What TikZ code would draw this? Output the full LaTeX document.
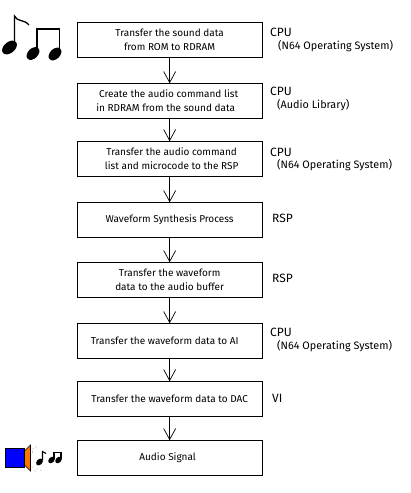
\documentclass[tikz,border=0pt]{standalone}
\usepackage{fontspec}
\setmainfont{Fira Sans}
\usetikzlibrary{calc}
\tikzset{
  x=1pt,y=-1pt,
  flowbox/.style={draw=black,line width=0.8pt,minimum width=185.5pt,minimum height=35.8pt,inner sep=0pt,align=center,font=\fontsize{10}{14.2}\selectfont,anchor=north west},
  flowarrow/.style={draw=black,line width=0.7pt},
  unitlabel/.style={font=\fontsize{12}{14}\selectfont,anchor=west,inner sep=0pt},
  sublabel/.style={font=\fontsize{10.8}{12}\selectfont,anchor=west,inner sep=0pt},
}
\begin{document}
\begin{tikzpicture}
\useasboundingbox (0,0) rectangle (410,493);
\node[flowbox] (b1) at (76.5,21.5) {Transfer the sound data\\from ROM to RDRAM};
\node[flowbox] (b2) at (76.5,82.5) {\hspace*{-2pt}Create the audio command list\\\hspace*{-8pt}in RDRAM from the sound data};
\node[flowbox] (b3) at (76.5,140.5) {\hspace*{4pt}Transfer the audio command\\\hspace*{4pt}list and microcode to the RSP};
\node[flowbox] (b4) at (76.5,201.5) {Waveform Synthesis Process};
\node[flowbox] (b5) at (76.5,261.5) {Transfer the waveform\\data to the audio buffer};
\node[flowbox] (b6) at (76.5,322.5) {\hspace*{-10pt}Transfer the waveform data to AI};
\node[flowbox] (b7) at (76.5,380.5) {Transfer the waveform data to DAC};
\node[flowbox] (b8) at (76.5,439.5) {\hspace*{-4pt}Audio Signal};
\foreach \a/\b in {b1/b2,b2/b3,b3/b4,b4/b5,b5/b6,b6/b7,b7/b8}{
  \draw[flowarrow] (\a.south) -- (\b.north);
  \draw[flowarrow] ($(\b.north)+(-6,-11)$) -- (\b.north) -- ($(\b.north)+(6,-11)$);
}
\node[unitlabel] (u1) at (270,32) {CPU};
\node[sublabel] (s1) at (278,46) {(N64 Operating System)};
\node[unitlabel] (u2) at (270,91) {CPU};
\node[sublabel] (s2) at (277,105) {(Audio Library)};
\node[unitlabel] (u3) at (270,152) {CPU};
\node[sublabel] (s3) at (277,165) {(N64 Operating System)};
\node[unitlabel] (u4) at (272,218) {RSP};
\node[unitlabel] (u5) at (272,278) {RSP};
\node[unitlabel] (u6) at (270,332) {CPU};
\node[sublabel] (s6) at (277,346) {(N64 Operating System)};
\node[unitlabel] (u7) at (272,398) {VI};
% notes
\fill (9.5,47.5) ellipse[x radius=8.5,y radius=5.5,rotate=40];
\fill (33,53.5) ellipse[x radius=7.5,y radius=5,rotate=45];
\fill (55,54) ellipse[x radius=7.5,y radius=5,rotate=45];
\draw[line width=1.3pt] (14.5,44) -- (14.5,16) .. controls (17,22) and (24,19) .. (29,25);
\draw[line width=1.3pt] (37,50) -- (37,28.5) (59.5,50) -- (59.5,28.5);
\draw[line width=1.8pt] (36.4,28.7) -- (60.2,28.7);
% speaker
\fill[blue,draw=black,line width=0.6pt] (5.5,448.5) rectangle (24.5,467);
\fill[orange!90!red,draw=black,line width=0.6pt] (24.5,451) -- (30.5,445) -- (30.5,471) -- (24.5,465) -- cycle;
\foreach \p in {(33,449),(36,447),(32.5,452),(33,467),(37,469),(41,470),(35,471)}{
  \fill \p circle[radius=0.45];
}
% small notes
\fill (39.5,462) ellipse[x radius=4,y radius=2.8,rotate=45];
\draw[line width=1.1pt] (42.5,460) -- (42.5,451.5) -- (46,453.5);
\fill (51.5,460) ellipse[x radius=3.8,y radius=2.7,rotate=45];
\fill (58.5,460) ellipse[x radius=3.8,y radius=2.7,rotate=45];
\draw[line width=1.1pt] (54,459) -- (54,452.5) -- (61,452.5) -- (61,459);
\end{tikzpicture}
\end{document}
